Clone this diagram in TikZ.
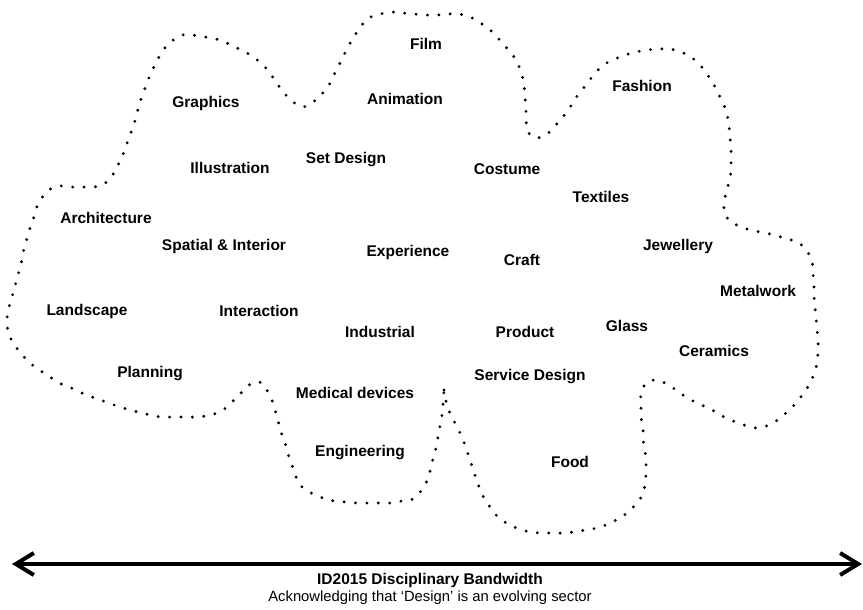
\documentclass[tikz,border=0pt]{standalone}
\usepackage{fontspec}
\setmainfont{Liberation Sans}
\usetikzlibrary{arrows.meta}
\begin{document}
\begin{tikzpicture}[x=1pt,y=-1pt,
  lbl/.style={font=\fontsize{15.5}{18}\selectfont\bfseries, anchor=base, inner sep=0pt},
  cloud/.style={line width=3.2pt, line cap=round, dash pattern=on 0pt off 11.4pt},
  barb/.tip={Straight Barb[length=18pt,width=22pt]}
  ]
\useasboundingbox (0,0) rectangle (863,610);
% cloud outline
\draw[cloud] plot[smooth, tension=0.5] coordinates {
(444,390) (447,406) (452,417) (457,427) (462,437) (466,448) (470,460) (474,472) (478,484) (483,496) (490,507) (498,517) (508,524) (519,529) (530,532) (541,533) (552,533) (563,533) (574,532) (585,530) (597,528) (608,524) (618,519) (627,513) (635,505) (642,496) (645,485) (646,473) (646,462) (645,451) (643,439) (643,428) (641,417) (641,405) (641,394) (646,383) (656,380) (667,384) (676,390) (686,397) (695,402) (706,407) (716,412) (726,418) (736,422) (747,426) (758,428) (769,425) (779,419) (788,411) (796,403) (803,394) (809,385) (814,374) (817,363) (818,352) (818,341) (817,329) (816,318) (815,307) (814,295) (814,284) (813,273) (812,261) (807,251) (799,243) (788,239) (777,236) (766,233) (755,231) (744,228) (733,223) (725,215) (724,204) (726,193) (729,182) (731,171) (731,159) (731,148) (730,137) (729,126) (727,114) (723,103) (718,93) (713,83) (707,74) (700,65) (691,57) (681,52) (670,49) (659,49) (647,50) (636,52) (625,55) (615,59) (605,64) (596,72) (589,81) (582,90) (575,99) (569,109) (562,118) (554,127) (546,135) (536,138) (528,132) (526,120) (526,109) (525,97) (524,86) (522,75) (518,64) (512,54) (505,46) (497,37) (489,29) (479,22) (470,17) (459,14) (448,14) (437,15) (426,15) (414,14) (403,13) (392,12) (380,14) (369,18) (361,26) (355,35) (349,45) (344,55) (339,65) (334,75) (329,85) (321,95) (313,102) (303,107) (293,102) (285,94) (278,85) (272,76) (265,67) (256,59) (247,53) (237,48) (227,43) (216,39) (205,37) (193,35) (182,35) (172,41) (164,49) (158,59) (153,69) (148,80) (144,91) (140,102) (137,113) (134,124) (130,135) (126,146) (122,157) (117,167) (112,176) (104,184) (94,187) (82,187) (71,187) (59,186) (49,190) (41,199) (36,209) (33,220) (29,231) (26,242) (23,253) (21,264) (18,275) (15,286) (12,297) (9,307) (7,319) (8,331) (12,341) (19,351) (26,359) (35,367) (44,373) (53,379) (63,385) (74,389) (84,394) (95,398) (106,402) (117,406) (127,409) (138,412) (150,415) (161,417) (172,417) (184,417) (195,417) (206,416) (217,413) (227,407) (235,399) (243,391) (252,383) (262,383) (268,392) (273,403) (276,413) (279,424) (282,435) (286,446) (289,457) (293,468) (297,479) (303,488) (313,494) (323,498) (334,501) (346,502) (357,503) (368,503) (380,503) (391,503) (402,501) (413,499) (421,491) (427,481) (430,471) (433,459) (436,448) (438,437) (440,426) (442,415) (443,404) (444,390)};
% labels
\node[lbl] (film) at (426,50) {Film};
\node[lbl] (animation) at (405,105) {Animation};
\node[lbl] (graphics) at (206,107) {Graphics};
\node[lbl] (fashion) at (642,92) {Fashion};
\node[lbl] (setdesign) at (346,164) {Set Design};
\node[lbl] (illustration) at (230,173) {Illustration};
\node[lbl] (costume) at (507,174) {Costume};
\node[lbl] (textiles) at (601,202) {Textiles};
\node[lbl] (architecture) at (106,223) {Architecture};
\node[lbl] (spatial) at (224,250) {Spatial \& Interior};
\node[lbl] (experience) at (408,256) {Experience};
\node[lbl] (craft) at (522,265) {Craft};
\node[lbl] (jewellery) at (678,250) {Jewellery};
\node[lbl] (metalwork) at (758,296) {Metalwork};
\node[lbl] (landscape) at (87,315) {Landscape};
\node[lbl] (interaction) at (259,316) {Interaction};
\node[lbl] (industrial) at (380,337) {Industrial};
\node[lbl] (product) at (525,337) {Product};
\node[lbl] (glass) at (627,331) {Glass};
\node[lbl] (ceramics) at (714,356) {Ceramics};
\node[lbl] (planning) at (150,377) {Planning};
\node[lbl] (medical) at (355,398) {Medical devices};
\node[lbl] (service) at (530,380) {Service Design};
\node[lbl] (engineering) at (360,456) {Engineering};
\node[lbl] (food) at (570,467) {Food};
% bandwidth arrow
\coordinate (L) at (12,564);
\coordinate (R) at (862,564);
\draw[line width=4pt, barb-barb] (L) -- (R);
\node[lbl] (title) at (430,584) {ID2015 Disciplinary Bandwidth};
\node[anchor=base, inner sep=0pt, font=\fontsize{14.8}{18}\selectfont] (subtitle) at (430,601) {Acknowledging that ‘Design’ is an evolving sector};
\end{tikzpicture}
\end{document}
